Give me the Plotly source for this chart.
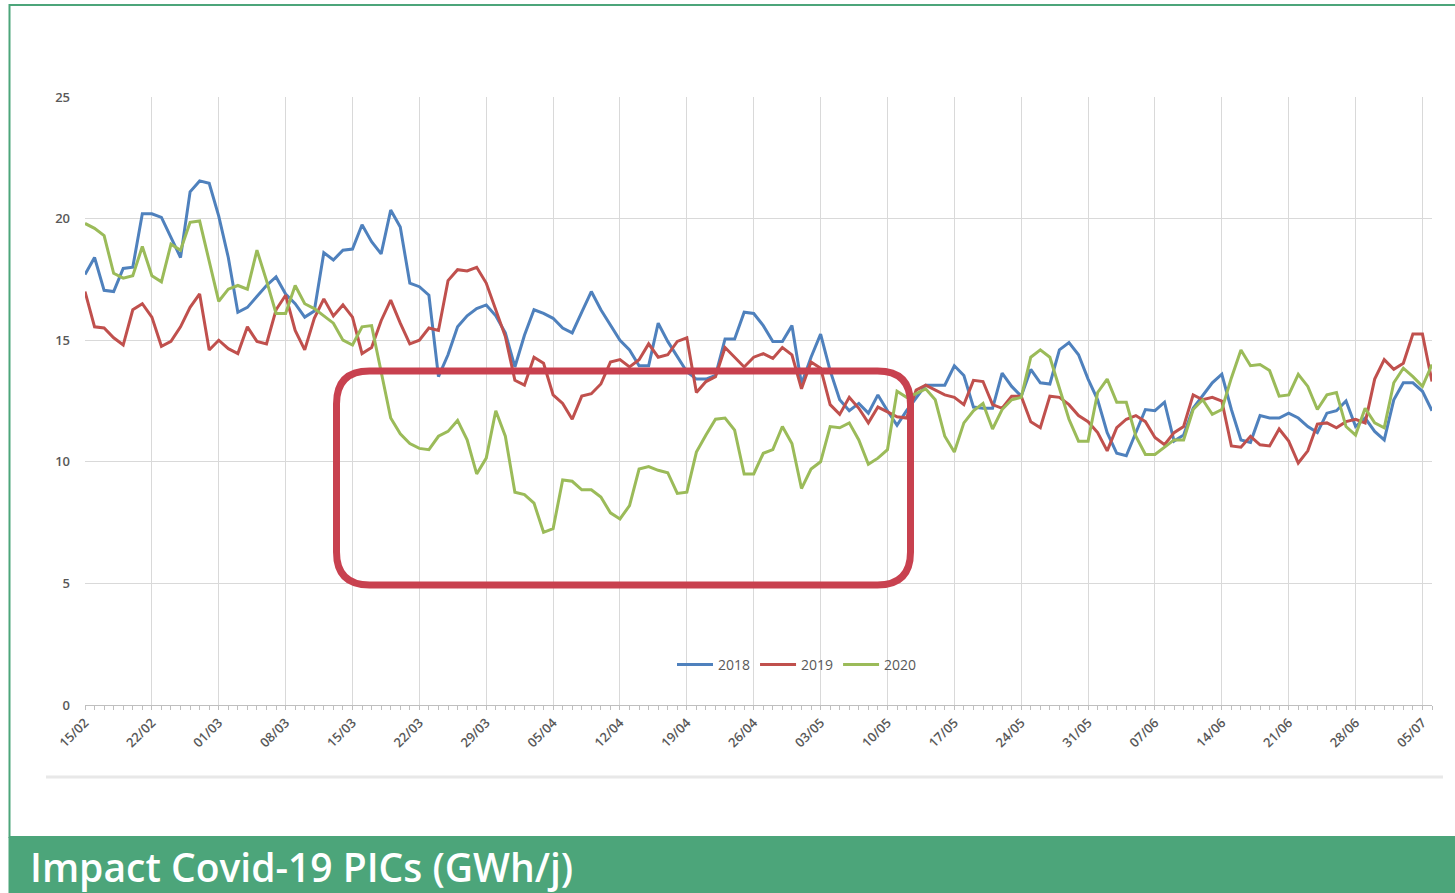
import pandas as pd
import plotly.graph_objects as go

# ---------------- data ----------------
start_date = "2019-02-15"          # day-of-year axis (non-leap calendar)
n_days = 142
dates = pd.date_range(start_date, periods=n_days, freq="D")

series_names = ["2018", "2019", "2020"]
series_colors = ["#4F81BD", "#C0504D", "#9BBB59"]

vals_2018 = [
    17.7, 18.4, 17.05, 17.0, 17.95, 18.0, 20.2,
    20.2, 20.05, 19.2, 18.4, 21.1, 21.55, 21.45,
    20.1, 18.4, 16.15, 16.35, 16.8, 17.25, 17.6,
    16.9, 16.5, 15.95, 16.2, 18.6, 18.3, 18.7,
    18.75, 19.75, 19.05, 18.55, 20.35, 19.65, 17.35,
    17.2, 16.85, 13.5, 14.4, 15.55, 16.0, 16.3,
    16.45, 16.0, 15.3, 13.9, 15.2, 16.25, 16.1,
    15.9, 15.5, 15.3, 16.15, 17.0, 16.25, 15.6,
    15.0, 14.6, 13.95, 13.95, 15.7, 14.95, 14.3,
    13.7, 13.4, 13.4, 13.55, 15.05, 15.05, 16.15,
    16.1, 15.6, 14.95, 14.95, 15.6, 13.2, 14.3,
    15.25, 13.75, 12.55, 12.1, 12.4, 12.0, 12.75,
    12.1, 11.5, 12.1, 12.65, 13.15, 13.15, 13.15,
    13.95, 13.55, 12.25, 12.2, 12.2, 13.65, 13.1,
    12.7, 13.8, 13.25, 13.2, 14.6, 14.9, 14.4,
    13.4, 12.55, 11.2, 10.35, 10.25, 11.2, 12.15,
    12.1, 12.45, 10.85, 11.1, 12.2, 12.7, 13.25,
    13.6, 12.15, 10.9, 10.8, 11.9, 11.8, 11.8,
    12.0, 11.8, 11.45, 11.2, 12.0, 12.1, 12.5,
    11.45, 11.8, 11.25, 10.9, 12.55, 13.25, 13.25,
    12.9, 12.1,
]

vals_2019 = [
    17.0, 15.55, 15.5, 15.1, 14.8, 16.25, 16.5,
    15.95, 14.75, 14.95, 15.55, 16.35, 16.9, 14.6,
    15.0, 14.65, 14.45, 15.55, 14.95, 14.85, 16.25,
    16.85, 15.4, 14.6, 15.9, 16.7, 16.0, 16.45,
    15.95, 14.45, 14.7, 15.8, 16.65, 15.7, 14.85,
    15.0, 15.5, 15.4, 17.45, 17.9, 17.85, 18.0,
    17.35, 16.25, 15.15, 13.35, 13.15, 14.3, 14.05,
    12.75, 12.4, 11.75, 12.7, 12.8, 13.2, 14.1,
    14.2, 13.9, 14.2, 14.85, 14.3, 14.4, 14.95,
    15.1, 12.85, 13.3, 13.5, 14.7, 14.3, 13.9,
    14.3, 14.45, 14.25, 14.7, 14.4, 13.0, 14.1,
    13.85, 12.35, 11.95, 12.65, 12.2, 11.6, 12.25,
    12.05, 11.85, 11.8, 12.95, 13.15, 12.95, 12.75,
    12.65, 12.35, 13.35, 13.3, 12.35, 12.2, 12.7,
    12.7, 11.65, 11.4, 12.7, 12.65, 12.35, 11.9,
    11.65, 11.2, 10.45, 11.4, 11.75, 11.9, 11.65,
    11.0, 10.7, 11.2, 11.45, 12.75, 12.55, 12.65,
    12.5, 10.65, 10.6, 11.05, 10.7, 10.65, 11.35,
    10.85, 9.95, 10.45, 11.55, 11.6, 11.4, 11.65,
    11.75, 11.6, 13.4, 14.2, 13.8, 14.05, 15.25,
    15.25, 13.3,
]

vals_2020 = [
    19.8, 19.6, 19.3, 17.75, 17.55, 17.65, 18.85,
    17.65, 17.4, 18.95, 18.7, 19.85, 19.9, 18.3,
    16.6, 17.1, 17.25, 17.1, 18.7, 17.45, 16.1,
    16.1, 17.25, 16.5, 16.3, 16.0, 15.7, 15.0,
    14.8, 15.55, 15.6, 13.7, 11.8, 11.15, 10.75,
    10.55, 10.5, 11.05, 11.25, 11.7, 10.9, 9.5,
    10.15, 12.1, 11.05, 8.75, 8.65, 8.3, 7.1,
    7.25, 9.25, 9.2, 8.85, 8.85, 8.55, 7.9,
    7.65, 8.2, 9.7, 9.8, 9.65, 9.55, 8.7,
    8.75, 10.4, 11.1, 11.75, 11.8, 11.3, 9.5,
    9.5, 10.35, 10.5, 11.45, 10.75, 8.9, 9.7,
    10.0, 11.45, 11.4, 11.6, 10.9, 9.9, 10.15,
    10.5, 12.9, 12.65, 12.8, 13.0, 12.55, 11.05,
    10.4, 11.6, 12.1, 12.4, 11.35, 12.15, 12.55,
    12.65, 14.3, 14.6, 14.3, 13.0, 11.75, 10.85,
    10.85, 12.85, 13.4, 12.45, 12.45, 11.05, 10.3,
    10.3, 10.6, 10.9, 10.9, 12.15, 12.55, 11.95,
    12.15, 13.45, 14.6, 13.95, 14.0, 13.75, 12.7,
    12.75, 13.6, 13.1, 12.15, 12.75, 12.85, 11.45,
    11.1, 12.2, 11.6, 11.4, 13.25, 13.85, 13.5,
    13.1, 14.0,
]

title_text = "Impact Covid-19 PICs (GWh/j)"

# ---------------- layout geometry (pixels) ----------------
W, H = 1455, 893
ML, MR, MT, MB = 85, 23, 97, 188
PW, PH = W - ML - MR, H - MT - MB


def px_x(px):
    return (px - ML) / PW


def px_y(py):
    return (H - MB - py) / PH


GREEN = "#4CA57A"
TICK_GREY = "#595959"

fig = go.Figure()
for name, color, vals in zip(series_names, series_colors, [vals_2018, vals_2019, vals_2020]):
    fig.add_trace(go.Scatter(
        x=dates, y=vals, name=name, mode="lines",
        line=dict(color=color, width=3),
    ))

DAY_MS = 86400000
fig.update_xaxes(
    type="date",
    range=[dates[0], dates[-1]],
    tick0=dates[0], dtick=7 * DAY_MS,
    tickformat="%d/%m", tickangle=-45,
    tickfont=dict(family="Open Sans", size=13, color=TICK_GREY, weight=600),
    showgrid=True, gridcolor="#D9D9D9", gridwidth=1,
    showline=True, linecolor="#BFBFBF", linewidth=1,
    ticks="outside", ticklen=4, tickcolor="#BFBFBF",
    minor=dict(dtick=DAY_MS, tick0=dates[0], ticks="outside", ticklen=4,
               tickcolor="#BFBFBF", showgrid=False),
    zeroline=False,
)
fig.update_yaxes(
    range=[0, 25], dtick=5, tick0=0,
    tickfont=dict(family="Open Sans", size=13, color=TICK_GREY, weight=600),
    showgrid=True, gridcolor="#D9D9D9", gridwidth=1,
    showline=False, zeroline=False, ticks="",
    ticklabelstandoff=14,
)

# red rounded highlight rectangle (pixel geometry -> paper)
rx0, rx1, ry0, ry1, rr = 336.5, 910.5, 371, 585, 33
x0, x1 = px_x(rx0), px_x(rx1)
yt, yb = px_y(ry0), px_y(ry1)
dx, dy = rr / PW, rr / PH
path = (f"M {x0+dx},{yt} L {x1-dx},{yt} Q {x1},{yt} {x1},{yt-dy} "
        f"L {x1},{yb+dy} Q {x1},{yb} {x1-dx},{yb} "
        f"L {x0+dx},{yb} Q {x0},{yb} {x0},{yb+dy} "
        f"L {x0},{yt-dy} Q {x0},{yt} {x0+dx},{yt} Z")

shapes = [
    # green outer frame
    dict(type="rect", xref="paper", yref="paper",
         x0=px_x(9.5), x1=px_x(1475), y0=px_y(5), y1=px_y(837),
         line=dict(color=GREEN, width=2), fillcolor="rgba(0,0,0,0)", layer="below"),
    # grey chart-area bottom edge
    dict(type="line", xref="paper", yref="paper",
         x0=px_x(46), x1=px_x(1443), y0=px_y(777), y1=px_y(777),
         line=dict(color="#E8E8E8", width=3), layer="below"),
    # green title banner
    dict(type="rect", xref="paper", yref="paper",
         x0=px_x(8.5), x1=px_x(1475), y0=px_y(837), y1=px_y(900),
         line=dict(width=0), fillcolor=GREEN, layer="above"),
    # highlight box
    dict(type="path", xref="paper", yref="paper", path=path,
         line=dict(color="#C8414F", width=7), fillcolor="rgba(0,0,0,0)", layer="above"),
]

fig.update_layout(
    width=W, height=H,
    margin=dict(l=ML, r=MR, t=MT, b=MB, autoexpand=False),
    paper_bgcolor="white", plot_bgcolor="white",
    showlegend=True,
    legend=dict(orientation="h", x=px_x(797), y=px_y(665),
                xanchor="center", yanchor="middle",
                bgcolor="rgba(0,0,0,0)",
                font=dict(family="Open Sans", size=14, color=TICK_GREY),
                itemwidth=36),
    shapes=shapes,
    annotations=[dict(
        text=title_text, xref="paper", yref="paper",
        x=px_x(28), y=px_y(866), xanchor="left", yanchor="middle",
        showarrow=False,
        font=dict(family="Open Sans", size=39, color="white", weight=600),
    )],
)

fig.write_html(
    "out.html",
    config={"displayModeBar": False},
    post_script="document.body.style.margin='0px';document.body.style.overflow='hidden';",
)
